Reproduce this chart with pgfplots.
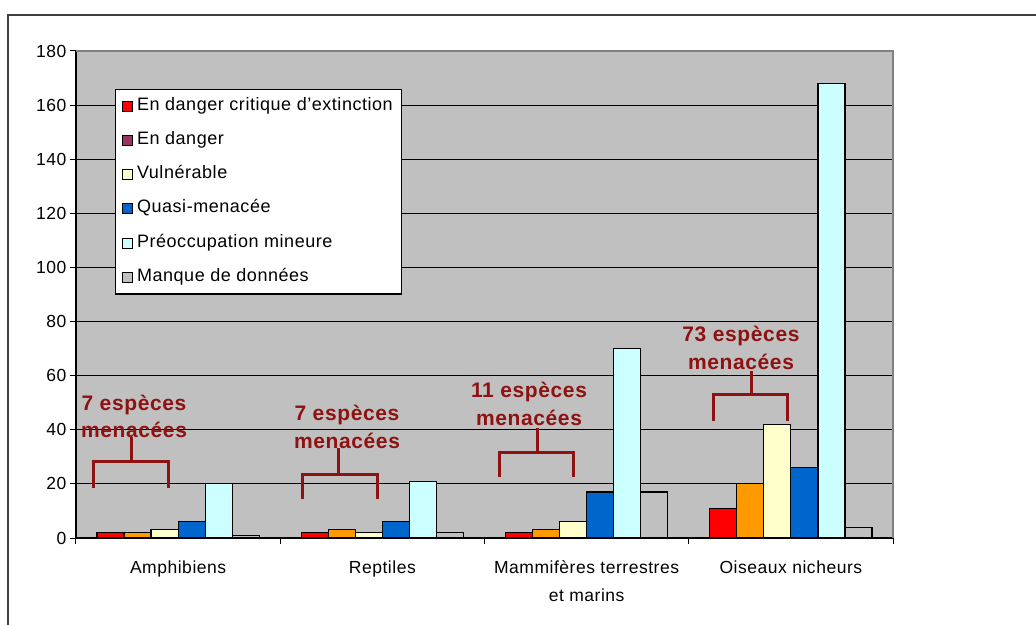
\documentclass[border=0pt]{standalone}
\usepackage{fontspec}
\setmainfont{Liberation Sans}[LetterSpace=3]
\usepackage{pgfplots}
\pgfplotsset{compat=1.18}

\definecolor{cCR}{HTML}{FF0000}
\definecolor{cEN}{HTML}{FF9900}
\definecolor{cENleg}{HTML}{993366}
\definecolor{cVU}{HTML}{FFFFCC}
\definecolor{cNT}{HTML}{0066CC}
\definecolor{cLC}{HTML}{CCFFFF}
\definecolor{cDD}{HTML}{C0C0C0}
\definecolor{plotbg}{HTML}{C0C0C0}
\definecolor{annot}{HTML}{8E1212}

\pgfplotsset{
  sq/.style={legend image code/.code={
      \draw[fill=#1, draw=black, line width=1pt] (0pt,-5pt) rectangle (10pt,5pt);}},
  bars/.style 2 args={fill=#1, draw=black, line width=1.2pt, bar shift=#2*0.1325},
}

\begin{document}
\begin{tikzpicture}
\useasboundingbox (0,0) rectangle (1036pt,624pt);
% outer frame (only left and top edges are visible)
\draw[black!75, line width=1.8pt] (8pt,-10pt) -- (8pt,609pt) -- (1050pt,609pt);

\begin{axis}[
  scale only axis,
  width=817pt, height=487pt,
  at={(76pt,86pt)}, anchor=south west,
  xmin=-0.5, xmax=3.5,
  ymin=0, ymax=180,
  ytick={0,20,...,180},
  ybar=0pt, bar width=0.1325,
  axis lines*=left,
  axis line style={black, line width=1.2pt},
  axis background/.style={fill=plotbg},
  ymajorgrids, grid style={black, line width=1.2pt},
  tick align=outside,
  major tick length=6pt, minor tick length=6pt,
  tick style={black, line width=1pt},
  xtick={0,1,2,3},
  major x tick style={draw=none},
  minor x tick style={black, line width=1pt},
  minor xtick={-0.5,0.5,1.5,2.5,3.5},
  xticklabels={Amphibiens, Reptiles, {Mammifères terrestres\\et marins}, Oiseaux nicheurs},
  xticklabel style={font=\fontsize{17.5}{28}\selectfont, align=center, yshift=-13pt},
  yticklabel style={font=\fontsize{17.5}{20}\selectfont},
  /pgf/number format/assume math mode=true,
  legend style={
    at={(0.0477,0.922)}, anchor=north west,
    draw=black, line width=1.2pt, fill=white,
    inner sep=6.5pt, row sep=14.3pt, column sep=2pt,
    font=\fontsize{18}{18}\selectfont,
    nodes={inner sep=2pt, text height=12pt, text depth=4pt},
  },
  legend cell align=left,
  after end axis/.code={
    \draw[black!50, line width=1.2pt] (rel axis cs:0,1) -- (rel axis cs:1,1) -- (rel axis cs:1,0);
  },
]
\addplot[bars={cCR}{-2.5}, forget plot] coordinates {(0,2) (1,2) (2,2) (3,11)};
\addplot[bars={cEN}{-1.5}, forget plot] coordinates {(0,2) (1,3) (2,3) (3,20)};
\addplot[bars={cVU}{-0.5}, forget plot] coordinates {(0,3) (1,2) (2,6) (3,42)};
\addplot[bars={cNT}{0.5}, forget plot] coordinates {(0,6) (1,6) (2,17) (3,26)};
\addplot[bars={cLC}{1.5}, forget plot] coordinates {(0,20) (1,21) (2,70) (3,168)};
\addplot[bars={cDD}{2.5}, forget plot] coordinates {(0,1) (1,2) (2,17) (3,4)};

\addlegendimage{sq=cCR}\addlegendentry{En danger critique d'extinction}
\addlegendimage{sq=cENleg}\addlegendentry{En danger}
\addlegendimage{sq=cVU}\addlegendentry{Vulnérable}
\addlegendimage{sq=cNT}\addlegendentry{Quasi-menacée}
\addlegendimage{sq=cLC}\addlegendentry{Préoccupation mineure}
\addlegendimage{sq=cDD}\addlegendentry{Manque de données}
\end{axis}

% annotations, in pixel coordinates measured from the top left corner
\begin{scope}[x=1pt, y=-1pt, shift={(0pt,624pt)}]
  \tikzset{ann/.style={annot, font=\fontsize{21}{24}\selectfont\bfseries, inner sep=0pt},
           br/.style={annot, line width=3pt}}
  % Amphibiens
  \node[ann] at (134,405) {7 espèces};
  \node[ann] at (134,430) {menacées};
  \draw[br] (93,488) -- (93,462) -- (168,462) -- (168,488);
  \draw[br] (131,462) -- (131,437);
  % Reptiles
  \node[ann] at (347,415) {7 espèces};
  \node[ann] at (347,441) {menacées};
  \draw[br] (302,499) -- (302,475) -- (377,475) -- (377,499);
  \draw[br] (338,475) -- (338,448);
  % Mammiferes
  \node[ann] at (529,392) {11 espèces};
  \node[ann] at (529,418) {menacées};
  \draw[br] (499,477) -- (499,453) -- (573,453) -- (573,477);
  \draw[br] (537,453) -- (537,428);
  % Oiseaux
  \node[ann] at (741,336) {73 espèces};
  \node[ann] at (741,362) {menacées};
  \draw[br] (713,421) -- (713,395) -- (787,395) -- (787,421);
  \draw[br] (751,395) -- (751,371);
\end{scope}
\end{tikzpicture}
\end{document}
